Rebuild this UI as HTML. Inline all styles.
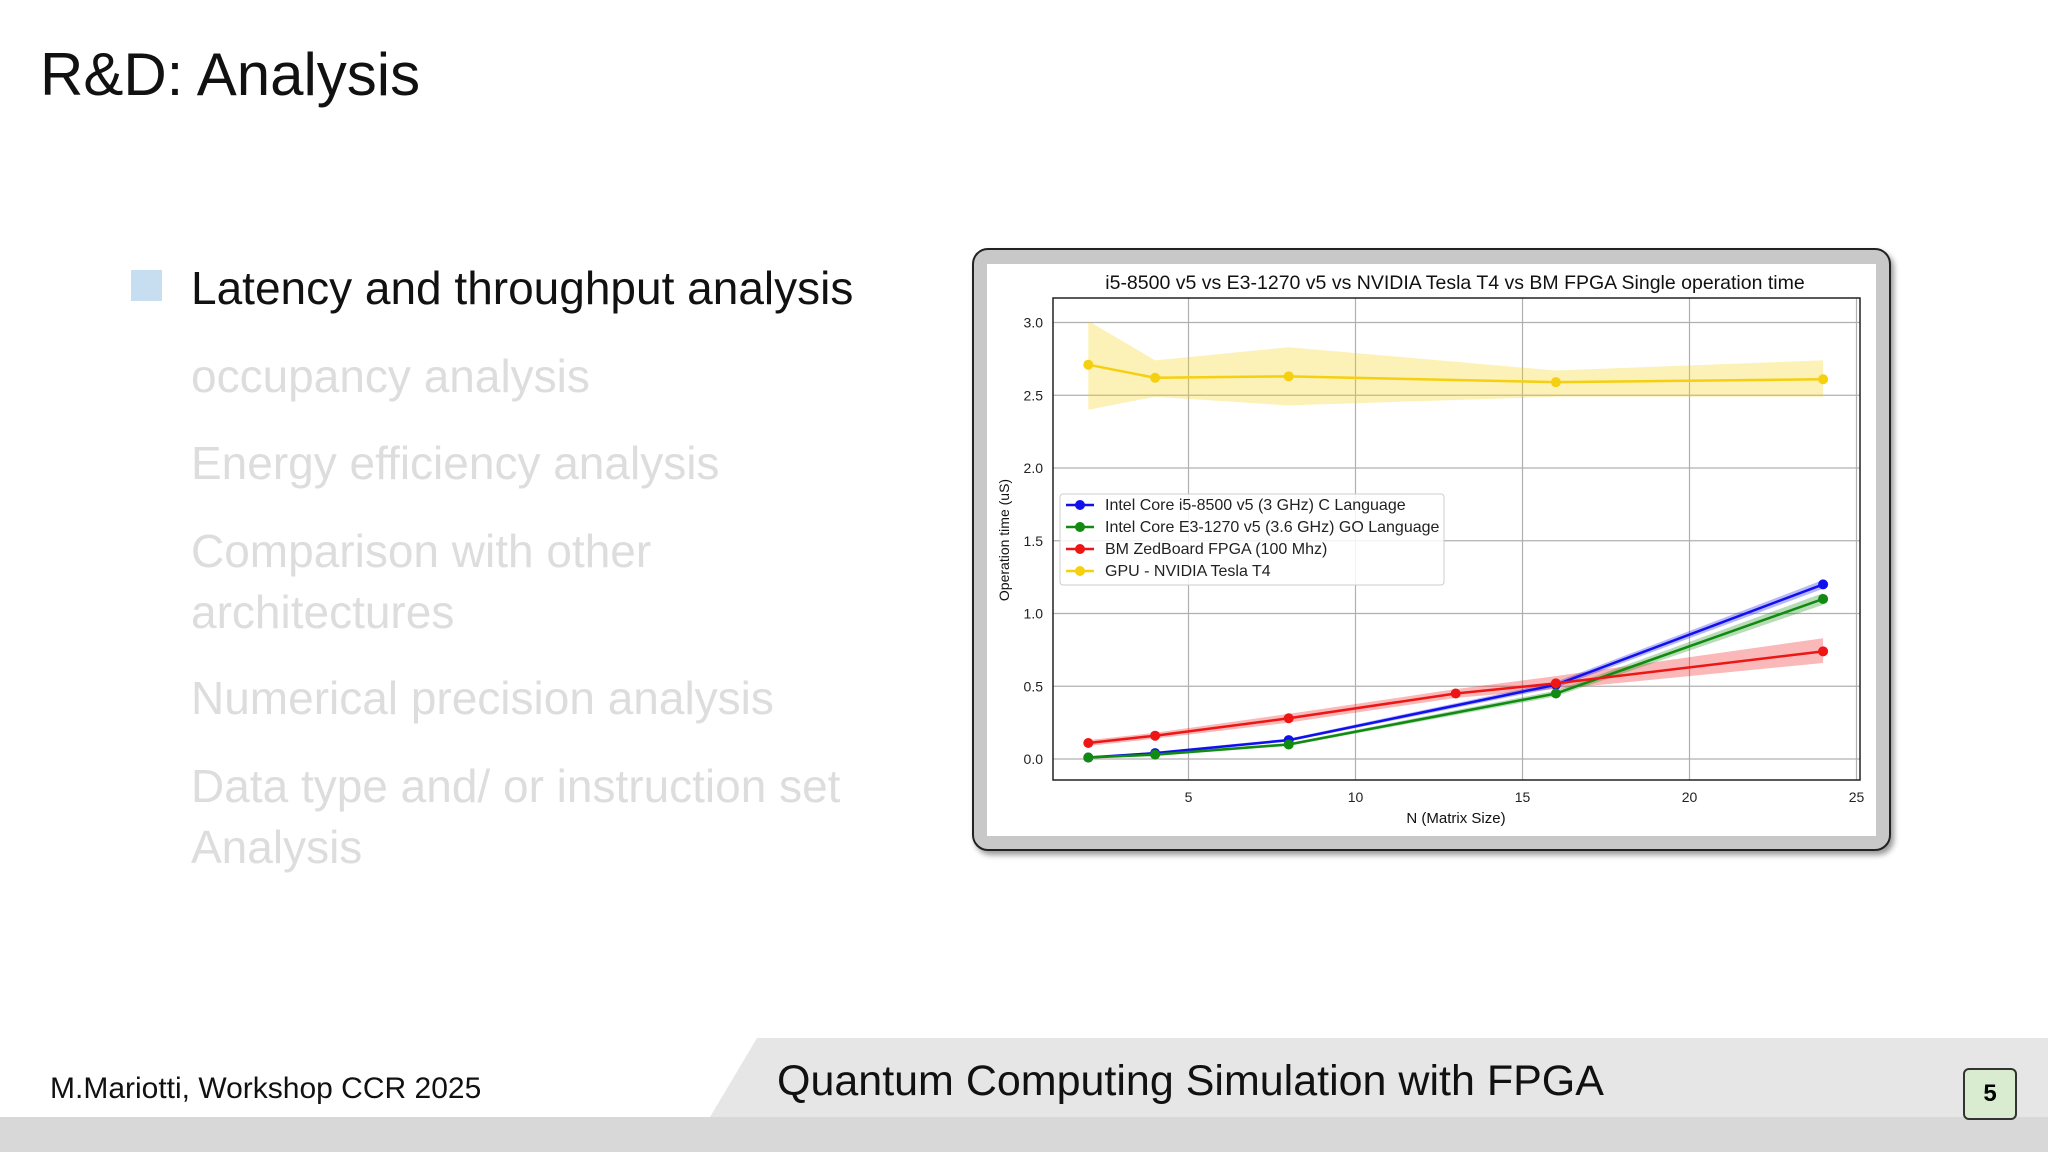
<!DOCTYPE html>
<html><head><meta charset="utf-8"><style>
body{margin:0;width:2048px;height:1152px;overflow:hidden;background:#fff;font-family:"Liberation Sans","DejaVu Sans",sans-serif;position:relative}
.t{position:absolute;white-space:nowrap}
</style></head><body>
<div class="t" style="left:40px;top:40px;font-size:60px;color:#111">R&amp;D: Analysis</div>
<div>
<div style="position:absolute;left:131px;top:270px;width:31px;height:31px;background:#c7ddf0"></div>
<div class="t" style="left:191px;top:261px;font-size:46px;color:#111">Latency and throughput analysis</div>
<div class="t" style="left:191px;top:349px;font-size:46px;color:#ddd">occupancy analysis</div>
<div class="t" style="left:191px;top:436px;font-size:46px;color:#ddd">Energy efficiency analysis</div>
<div class="t" style="left:191px;top:521px;font-size:46px;color:#ddd;line-height:61px">Comparison with other<br>architectures</div>
<div class="t" style="left:191px;top:671px;font-size:46px;color:#ddd">Numerical precision analysis</div>
<div class="t" style="left:191px;top:756px;font-size:46px;color:#ddd;line-height:61px">Data type and/ or instruction set<br>Analysis</div>
</div>
<div style="position:absolute;left:972px;top:248px;width:915px;height:599px;border:2px solid #222;border-radius:16px;background:#c8c8c8;box-shadow:3px 4px 6px rgba(0,0,0,0.4)"></div>
<svg id="chart" width="2048" height="1152" style="position:absolute;left:0;top:0">
<rect x="987" y="264" width="889" height="572" fill="#fff"/>
</svg>
<div>
<svg width="2048" height="1152" style="position:absolute;left:0;top:0">
<polygon points="757,1038 2048,1038 2048,1117 710,1117" fill="#e6e6e6"/>
<rect x="0" y="1117" width="2048" height="35" fill="#d8d8d8"/>
</svg>
<div class="t" style="left:50px;top:1072px;font-size:30px;color:#111">M.Mariotti, Workshop CCR 2025</div>
<div class="t" style="left:777px;top:1057px;font-size:43px;color:#111">Quantum Computing Simulation with FPGA</div>
<div class="t" style="left:1963px;top:1068px;width:50px;height:48px;border:2px solid #333;border-radius:6px;background:#d9ecd0;font-size:24px;text-align:center;line-height:48px;font-weight:bold">5</div>
</div>
<script>
const xsCpu=[2,4,8,16,24];
const i5Vals=[0.01,0.04,0.13,0.51,1.20];
const e3Vals=[0.01,0.03,0.10,0.45,1.10];
const xsFpga=[2,4,8,13,16,24];
const fpgaVals=[0.11,0.16,0.28,0.45,0.52,0.74];
const fpgaLo=[0.09,0.14,0.25,0.42,0.48,0.66];
const fpgaHi=[0.13,0.18,0.31,0.48,0.57,0.83];
const i5Lo=[0.005,0.03,0.12,0.49,1.17];
const i5Hi=[0.015,0.05,0.14,0.53,1.23];
const e3Lo=[0.005,0.02,0.09,0.43,1.06];
const e3Hi=[0.015,0.04,0.11,0.47,1.14];
const gpuVals=[2.71,2.62,2.63,2.59,2.61];
const gpuLo=[2.40,2.49,2.43,2.49,2.49];
const gpuHi=[3.01,2.74,2.83,2.67,2.74];
const xTicks=[5,10,15,20,25];
const yTicks=[0.0,0.5,1.0,1.5,2.0,2.5,3.0];
const legendLabels=["Intel Core i5-8500 v5 (3 GHz) C Language","Intel Core E3-1270 v5 (3.6 GHz) GO Language","BM ZedBoard FPGA (100 Mhz)","GPU - NVIDIA Tesla T4"];
const colors=["#1010ee","#108a10","#ee1515","#f5d010"];
const svg=document.getElementById('chart');
const NS='http://www.w3.org/2000/svg';
const L=1053,R=1860,T=298,B=780;
const X=v=>1021.5+v*33.4;
const Y=v=>759-v*145.5;
function mk(t,a,p){const e=document.createElementNS(NS,t);for(const k in a)e.setAttribute(k,a[k]);(p||svg).appendChild(e);return e;}
xTicks.forEach(v=>{const g=mk('line',{x1:X(v),x2:X(v),y1:T,y2:B,stroke:'#b0b0b0','stroke-width':1.2});


const t=mk('text',{x:X(v),y:B+22,'font-size':14,'text-anchor':'middle',fill:'#222'});t.textContent=v;

});
yTicks.forEach(v=>{const g=mk('line',{x1:L,x2:R,y1:Y(v),y2:Y(v),stroke:'#b0b0b0','stroke-width':1.2});


const t=mk('text',{x:1043,y:Y(v)+5,'font-size':14,'text-anchor':'end',fill:'#222'});t.textContent=v.toFixed(1);

});
const ax=mk('rect',{x:L,y:T,width:R-L,height:B-T,fill:'none',stroke:'#222','stroke-width':1.5});


function band(xs,lo,hi,c,name){const pts=xs.map((x,i)=>X(x)+','+Y(hi[i])).concat(xs.map((x,i)=>X(x)+','+Y(lo[i])).reverse());
const p=mk('polygon',{points:pts.join(' '),fill:c,'fill-opacity':0.3});

}
function series(xs,ys,c,name){const p=mk('polyline',{points:xs.map((x,i)=>X(x)+','+Y(ys[i])).join(' '),fill:'none',stroke:c,'stroke-width':2.5});


xs.forEach((x,i)=>{const d=mk('circle',{cx:X(x),cy:Y(ys[i]),r:5,fill:c});

});}
band(xsCpu,gpuLo,gpuHi,colors[3],'gpu-band');
band(xsFpga,fpgaLo,fpgaHi,colors[2],'fpga-band');
band(xsCpu,i5Lo,i5Hi,colors[0],'i5-band');
band(xsCpu,e3Lo,e3Hi,colors[1],'e3-band');
series(xsCpu,gpuVals,colors[3],'gpu');
series(xsCpu,i5Vals,colors[0],'i5');
series(xsCpu,e3Vals,colors[1],'e3');
series(xsFpga,fpgaVals,colors[2],'fpga');
let t=mk('text',{x:1455,y:289,'font-size':19.5,'text-anchor':'middle',fill:'#111'});t.textContent='i5-8500 v5 vs E3-1270 v5 vs NVIDIA Tesla T4 vs BM FPGA Single operation time';


t=mk('text',{x:1456,y:823,'font-size':15,'text-anchor':'middle',fill:'#111'});t.textContent='N (Matrix Size)';


t=mk('text',{x:0,y:0,'font-size':14,'text-anchor':'middle',fill:'#111',transform:'translate(1009,540) rotate(-90)'});t.textContent='Operation time (uS)';


const lg=mk('rect',{x:1060,y:494,width:384,height:91,fill:'#fff','fill-opacity':0.85,stroke:'#ccc',rx:3});


legendLabels.forEach((s,i)=>{const y=505+i*22;
const l=mk('line',{x1:1066,x2:1094,y1:y,y2:y,stroke:colors[i],'stroke-width':2.5});


const c=mk('circle',{cx:1080,cy:y,r:5,fill:colors[i]});


const tx=mk('text',{x:1105,y:y+5,'font-size':16,fill:'#222'});tx.textContent=s;

});
</script>
</body></html>
